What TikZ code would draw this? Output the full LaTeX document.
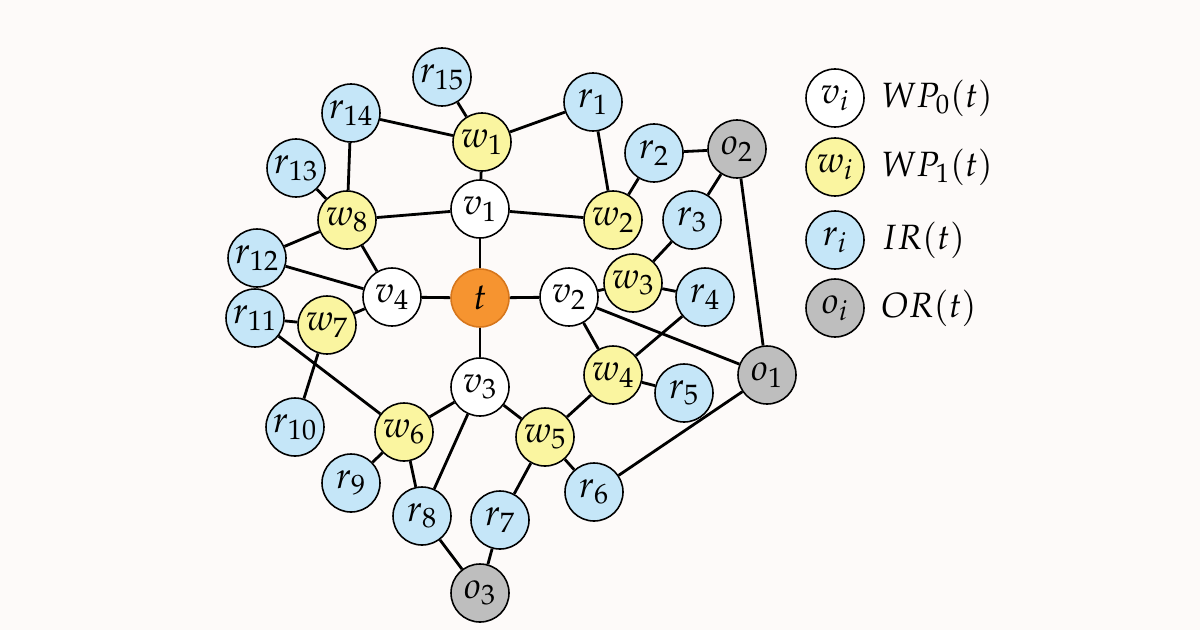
\documentclass[tikz,border=0pt]{standalone}
\usepackage{mathpazo}
\definecolor{bgc}{RGB}{253,250,249}
\definecolor{rblue}{RGB}{197,230,248}
\definecolor{wyellow}{RGB}{250,245,160}
\definecolor{torange}{RGB}{246,148,48}
\definecolor{tborder}{RGB}{214,118,28}
\definecolor{ogray}{RGB}{190,190,190}
\begin{document}
\begin{tikzpicture}
	[node/.style={circle,draw,line width=0.9pt,fill=white,minimum size=1.16cm,inner sep=0pt,font=\fontsize{21}{24}\selectfont},
	vnode/.style={node},
	wnode/.style={node,fill=wyellow},
	rnode/.style={node,fill=rblue},
	onode/.style={node,fill=ogray},
	tnode/.style={node,fill=torange,draw=tborder},
	edge/.style={line width=1.6pt},
	label/.style={anchor=west,inner sep=0pt,font=\fontsize{20}{24}\selectfont}]
	\fill[bgc] (0,0) rectangle (24,12.6);
	\useasboundingbox (0,0) rectangle (24,12.6);
	% center and v nodes
	\node[tnode,name=t]at(9.60,6.64){$t$};
	\node[vnode,name=v1]at(9.60,8.42){$v_{1}$};
	\node[vnode,name=v2]at(11.38,6.66){$v_{2}$};
	\node[vnode,name=v3]at(9.60,4.86){$v_{3}$};
	\node[vnode,name=v4]at(7.84,6.66){$v_{4}$};
	% w nodes
	\node[wnode,name=w1]at(9.64,9.76){$w_{1}$};
	\node[wnode,name=w2]at(12.26,8.20){$w_{2}$};
	\node[wnode,name=w3]at(12.66,6.94){$w_{3}$};
	\node[wnode,name=w4]at(12.26,5.10){$w_{4}$};
	\node[wnode,name=w5]at(10.90,3.86){$w_{5}$};
	\node[wnode,name=w6]at(8.08,3.96){$w_{6}$};
	\node[wnode,name=w7]at(6.54,6.10){$w_{7}$};
	\node[wnode,name=w8]at(6.94,8.20){$w_{8}$};
	% r nodes
	\node[rnode,name=r1]at(11.86,10.56){$r_{1}$};
	\node[rnode,name=r2]at(13.08,9.54){$r_{2}$};
	\node[rnode,name=r3]at(13.84,8.20){$r_{3}$};
	\node[rnode,name=r4]at(14.10,6.66){$r_{4}$};
	\node[rnode,name=r5]at(13.68,4.74){$r_{5}$};
	\node[rnode,name=r6]at(11.88,2.76){$r_{6}$};
	\node[rnode,name=r7]at(10.00,2.20){$r_{7}$};
	\node[rnode,name=r8]at(8.44,2.28){$r_{8}$};
	\node[rnode,name=r9]at(7.02,2.94){$r_{9}$};
	\node[rnode,name=r10]at(5.90,4.06){$r_{10}$};
	\node[rnode,name=r11]at(5.10,6.24){$r_{11}$};
	\node[rnode,name=r12]at(5.14,7.44){$r_{12}$};
	\node[rnode,name=r13]at(5.92,9.24){$r_{13}$};
	\node[rnode,name=r14]at(7.02,10.34){$r_{14}$};
	\node[rnode,name=r15]at(8.84,11.06){$r_{15}$};
	% o nodes
	\node[onode,name=o1]at(15.34,5.10){$o_{1}$};
	\node[onode,name=o2]at(14.74,9.62){$o_{2}$};
	\node[onode,name=o3]at(9.60,0.74){$o_{3}$};
	% edges
	\draw[edge] (t)--(v1);
	\draw[edge] (t)--(v2);
	\draw[edge] (t)--(v3);
	\draw[edge] (t)--(v4);
	\draw[edge] (v1)--(w1);
	\draw[edge] (v1)--(w2);
	\draw[edge] (v1)--(w8);
	\draw[edge] (w1)--(r15);
	\draw[edge] (w1)--(r14);
	\draw[edge] (w1)--(r1);
	\draw[edge] (w2)--(r1);
	\draw[edge] (w2)--(r2);
	\draw[edge] (r2)--(o2);
	\draw[edge] (o2)--(r3);
	\draw[edge] (o2)--(o1);
	\draw[edge] (r3)--(w3);
	\draw[edge] (v2)--(w3);
	\draw[edge] (w3)--(r4);
	\draw[edge] (v2)--(w4);
	\draw[edge] (v2)--(o1);
	\draw[edge] (w4)--(r4);
	\draw[edge] (w4)--(r5);
	\draw[edge] (w4)--(w5);
	\draw[edge] (v3)--(w5);
	\draw[edge] (w5)--(r6);
	\draw[edge] (w5)--(r7);
	\draw[edge] (r6)--(o1);
	\draw[edge] (v3)--(w6);
	\draw[edge] (v3)--(r8);
	\draw[edge] (w6)--(r8);
	\draw[edge] (w6)--(r9);
	\draw[edge] (w6)--(r11);
	\draw[edge] (r8)--(o3);
	\draw[edge] (r7)--(o3);
	\draw[edge] (v4)--(w7);
	\draw[edge] (w7)--(r11);
	\draw[edge] (w7)--(r10);
	\draw[edge] (v4)--(w8);
	\draw[edge] (v4)--(r12);
	\draw[edge] (w8)--(r12);
	\draw[edge] (w8)--(r13);
	\draw[edge] (w8)--(r14);
	% legend
	\node[vnode,name=lv]at(16.70,10.64){$v_{i}$};
	\node[wnode,name=lw]at(16.70,9.26){$w_{i}$};
	\node[rnode,name=lr]at(16.70,7.80){$r_{i}$};
	\node[onode,name=lo]at(16.70,6.44){$o_{i}$};
	\node[label,name=tv]at(17.62,10.64){$WP_{0}(t)$};
	\node[label,name=tw]at(17.62,9.26){$WP_{1}(t)$};
	\node[label,name=tr]at(17.62,7.80){$IR(t)$};
	\node[label,name=to]at(17.62,6.44){$OR(t)$};
\end{tikzpicture}
\end{document}
